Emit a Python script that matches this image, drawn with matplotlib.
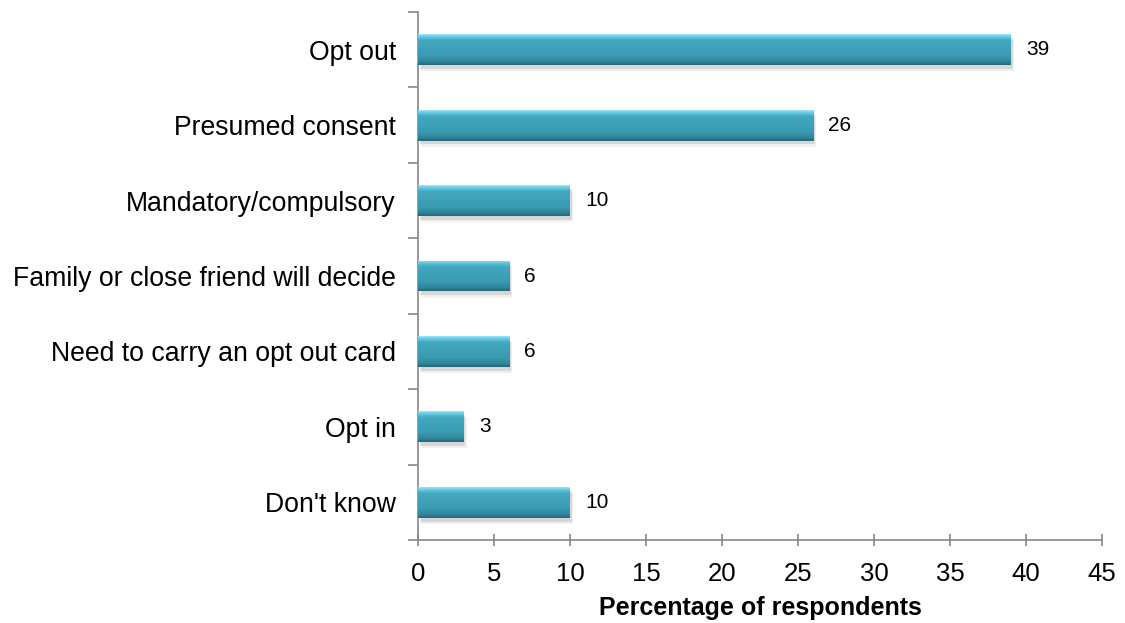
import matplotlib
matplotlib.use("Agg")
import matplotlib.pyplot as plt
import numpy as np
from matplotlib.colors import LinearSegmentedColormap

categories = ["Opt out", "Presumed consent", "Mandatory/compulsory",
              "Family or close friend will decide", "Need to carry an opt out card",
              "Opt in", "Don't know"]
values = [39, 26, 10, 6, 6, 3, 10]
xticks = [0, 5, 10, 15, 20, 25, 30, 35, 40, 45]
xlabel = "Percentage of respondents"

plt.rcParams['font.family'] = ['Liberation Sans', 'DejaVu Sans']

fig = plt.figure(figsize=(11.25, 6.23), dpi=100)
ax = fig.add_axes([0.3716, 0.1332, 0.608, 0.8475])

n = len(categories)
ypos = np.arange(n)
h = 0.41

cmap = LinearSegmentedColormap.from_list(
    "bar", [(0.0, "#9ae6f6"), (0.08, "#64cbe3"), (0.2, "#43a9c1"),
            (0.7, "#3a9bb2"), (0.88, "#31879b"), (1.0, "#26687a")])
grad = np.linspace(0, 1, 100).reshape(-1, 1)

# soft shadows
ax.barh(ypos + 0.05, values, height=h, left=0.12, color="#000000", alpha=0.10,
        edgecolor="none", zorder=1)
ax.barh(ypos + 0.08, values, height=h, left=0.2, color="#000000", alpha=0.06,
        edgecolor="none", zorder=1)
bars = ax.barh(ypos, values, height=h, color="#3a9ab1", edgecolor="none", zorder=2)
for b in bars:
    x0, y0 = b.get_x(), b.get_y()
    w, hh = b.get_width(), b.get_height()
    im = ax.imshow(grad, cmap=cmap, aspect="auto", extent=[x0, x0 + w, y0 + hh, y0],
                   origin="upper", zorder=3, interpolation="bilinear")
    im.set_clip_path(b)
    ax.text(x0 + w + 1.0, y0 + hh / 2, f"{w:g}", va="center", ha="left",
            fontsize=15, color="#000000", zorder=4)

ax.set_ylim(n - 0.5, -0.5)
ax.set_xlim(0, 45)
ax.set_xticks(xticks)
ax.set_xticklabels([str(t) for t in xticks], fontsize=18.5)
ax.set_yticks(ypos)
ax.set_yticklabels(categories, fontsize=19.2)
ax.tick_params(axis='y', which='major', length=0, pad=16)
ax.set_yticks(np.arange(n + 1) - 0.5, minor=True)
ax.tick_params(axis='y', which='minor', length=7, color="#888888", direction='out', width=1.2)
ax.tick_params(axis='x', length=8, color="#888888", direction='inout', pad=12, width=1.2)
ax.set_xlabel(xlabel, fontsize=18, fontweight='bold', labelpad=7)

for s in ["top", "right"]:
    ax.spines[s].set_visible(False)
for s in ["left", "bottom"]:
    ax.spines[s].set_color("#888888")
    ax.spines[s].set_linewidth(1.2)

fig.savefig("out.png", dpi=100)
